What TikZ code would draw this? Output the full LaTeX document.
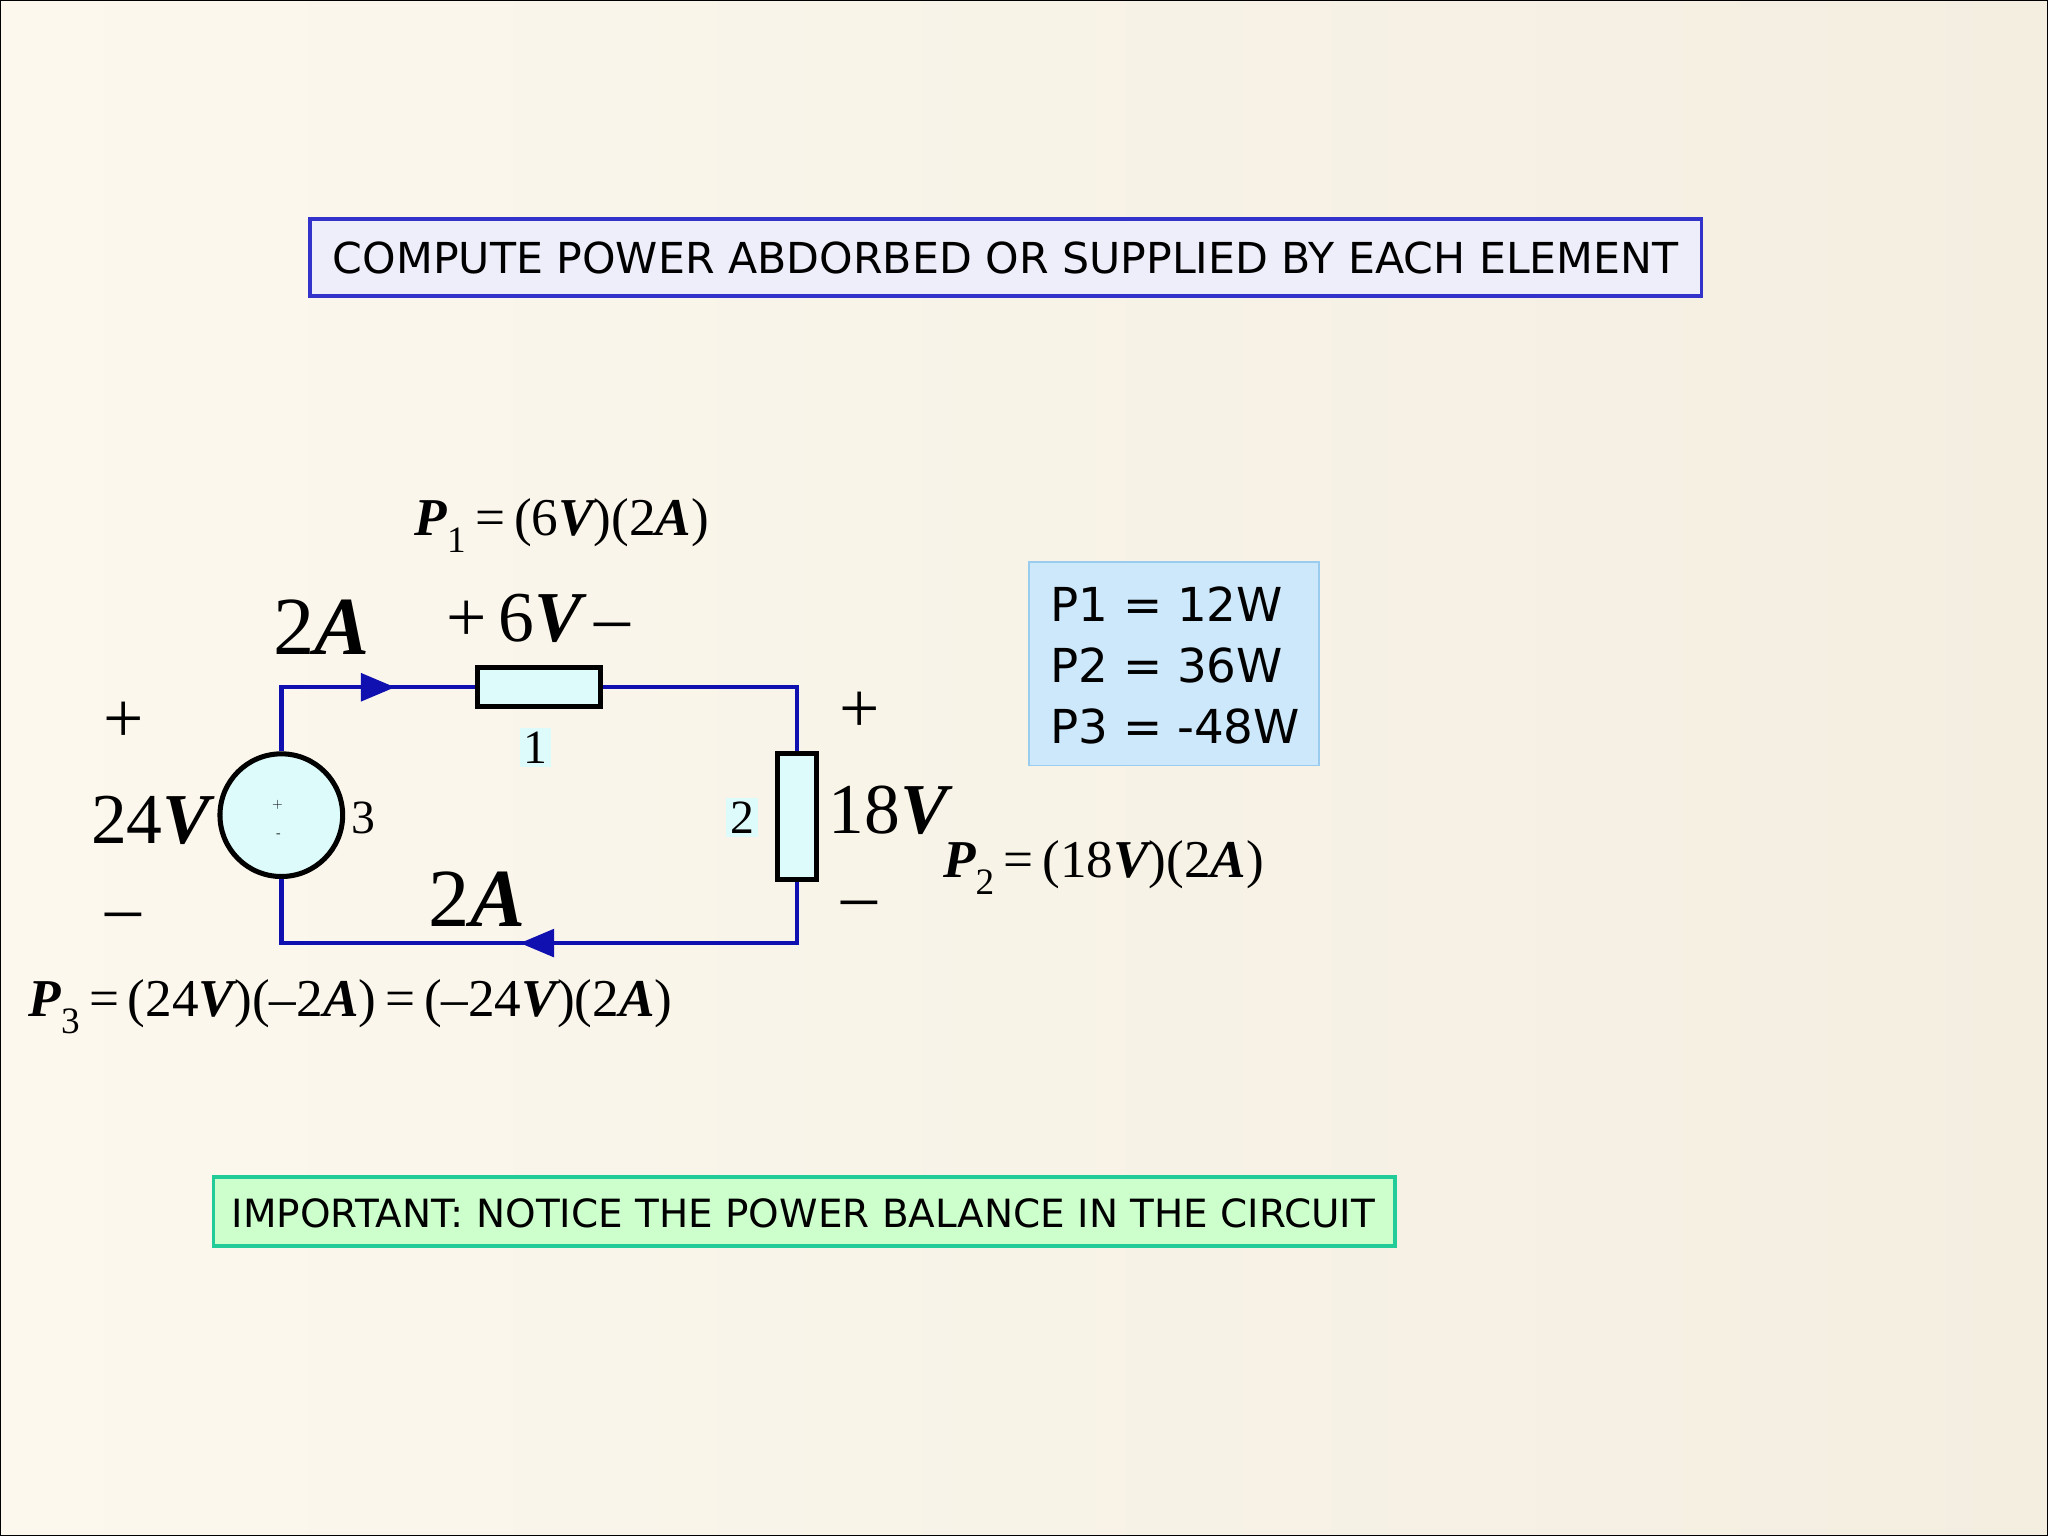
\documentclass[tikz,border=0pt]{standalone}
\usepackage{fontspec}
\setmainfont{Liberation Serif}
\newfontfamily\sansf{DejaVu Sans}
\usetikzlibrary{arrows.meta}
\definecolor{bgA}{HTML}{FDF8EE}
\definecolor{bgB}{HTML}{F3EEE0}
\definecolor{wire}{HTML}{1010B0}
\definecolor{elem}{HTML}{DDFBFB}
\definecolor{resfill}{HTML}{CDE8FA}
\definecolor{resdraw}{HTML}{99CCEE}
\definecolor{titledraw}{HTML}{3333CC}
\definecolor{titlefill}{HTML}{EEEEFA}
\definecolor{impdraw}{HTML}{22CC99}
\definecolor{impfill}{HTML}{CCFFCC}
\newcommand{\bi}[1]{{\bfseries\itshape #1}}
\begin{document}
\begin{tikzpicture}[x=0.5mm,y=-0.5mm,
  w/.style={draw=wire,line width=4.8pt},
  el/.style={draw=black,fill=elem,line width=5.5pt},
  big/.style={font=\fontsize{90}{90}\selectfont},
  mid/.style={font=\fontsize{78}{78}\selectfont},
  frm/.style={font=\fontsize{58}{58}\selectfont},
  sm/.style={font=\fontsize{52}{52}\selectfont,fill=elem,inner sep=4pt},
  box/.style={font=\sansf\fontsize{46.5}{46.5}\selectfont,inner sep=0pt}]
\shade[left color=bgA,right color=bgB,draw=black,line width=1.5pt] (0,0) rectangle (1568,1176);
\useasboundingbox (0,0) rectangle (1568,1176);
% title
\draw[draw=titledraw,fill=titlefill,line width=4pt] (237,167) rectangle (1303,226);
\node[box] (title) at (770,197) {COMPUTE POWER ABDORBED OR SUPPLIED BY EACH ELEMENT};
% circuit coordinates
\coordinate (tl) at (215,526); \coordinate (tr) at (610,526);
\coordinate (bl) at (215,722); \coordinate (br) at (610,722);
\node[el,circle,minimum size=47mm,inner sep=0pt] (src) at (215,624) {};
\node[el,minimum width=47mm,minimum height=15mm,inner sep=0pt] (r1) at (412.5,526) {};
\node[el,minimum width=15mm,minimum height=48mm,inner sep=0pt] (r2) at (610,625) {};
\draw[w] (src.north) -- (tl) -- (r1.west);
\draw[w] (r1.east) -- (tr) -- (r2.north);
\draw[w] (r2.south) -- (br) -- (bl) -- (src.south);
\coordinate (a1) at (302,526); \coordinate (a2) at (398,722);
\fill[wire] (a1) -- ++(-26,-11) -- ++(0,22) -- cycle;
\fill[wire] (a2) -- ++(26,-11) -- ++(0,22) -- cycle;
\node[font=\sffamily\fontsize{16}{16}\selectfont,inner sep=0pt] (sp) at (212,616) {+};
\node[font=\sffamily\fontsize{16}{16}\selectfont,inner sep=0pt] (sm) at (213,640) {-};
% element numbers
\node[sm] (n1) at (410,572) {1};
\node[sm] (n2) at (568,626) {2};
\node[font=\fontsize{52}{52}\selectfont] (n3) at (278,626) {3};
% voltages and currents
\node[mid] (p24) at (94,553) {+};
\node[mid] (v24) at (115,628) {24\bi{V}};
\node[mid] (m24) at (94,706) {–};
\node[mid] (p18) at (658,545) {+};
\node[mid] (v18) at (680,620) {18\bi{V}};
\node[mid] (m18) at (658,697) {–};
\node[big] (i1) at (246,480) {2\bi{A}};
\node[mid] (v6) at (412,473) {+\,6\bi{V}\,–};
\node[big] (i2) at (365,688) {2\bi{A}};
% formulas
\node[frm] (f1) at (430,402) {\bi{P}$_{\mathrm 1}$\,=\,(6\bi{V})(2\bi{A})};
\node[frm] (f2) at (845,664) {\bi{P}$_{\mathrm 2}$\,=\,(18\bi{V})(2\bi{A})};
\node[frm] (f3) at (268,771) {\bi{P}$_{\mathrm 3}$\,=\,(24\bi{V})(–2\bi{A})\,=\,(–24\bi{V})(2\bi{A})};
% results box
\draw[draw=resdraw,fill=resfill,line width=2pt] (788,430) rectangle (1010,586);
\node[box,anchor=west,font=\sansf\fontsize{51}{51}\selectfont] (q1) at (804,462) {P1 = 12W};
\node[box,anchor=west,font=\sansf\fontsize{51}{51}\selectfont] (q2) at (804,509) {P2 = 36W};
\node[box,anchor=west,font=\sansf\fontsize{51}{51}\selectfont] (q3) at (804,556) {P3 = -48W};
% important box
\draw[draw=impdraw,fill=impfill,line width=4pt] (163,901) rectangle (1068,954);
\node[box,font=\sansf\fontsize{42.4}{42.4}\selectfont] (imp) at (615,929) {IMPORTANT: NOTICE THE POWER BALANCE IN THE CIRCUIT};
\end{tikzpicture}
\end{document}
